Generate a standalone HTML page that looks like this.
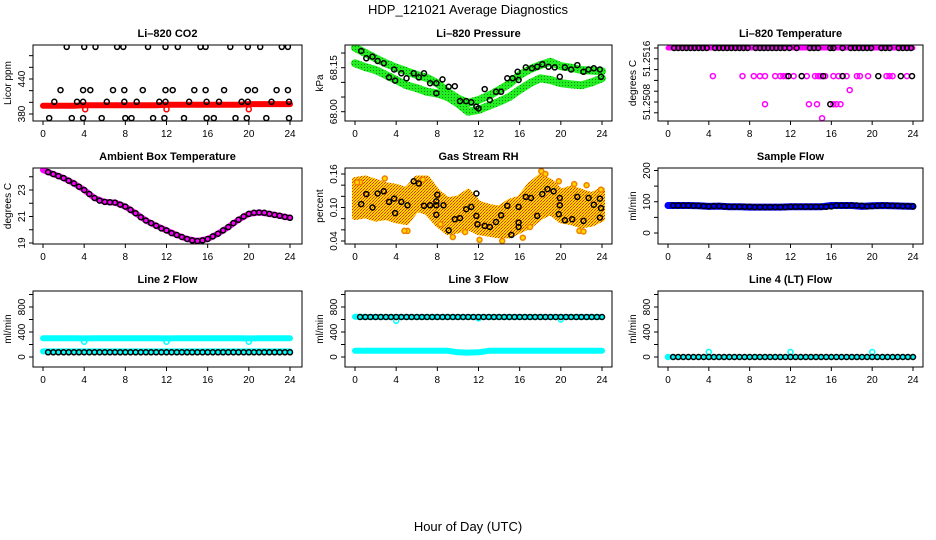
<!DOCTYPE html>
<html><head><meta charset="utf-8"><title>HDP_121021 Average Diagnostics</title>
<style>
html,body{margin:0;padding:0;background:#fff;}
svg{display:block;font-family:"Liberation Sans",Arial,sans-serif;}
</style></head>
<body>
<svg id="chart" width="936" height="540" viewBox="0 0 936 540" xmlns="http://www.w3.org/2000/svg">
<defs>
<pattern id="greenDots" width="3" height="3" patternUnits="userSpaceOnUse"><rect width="3" height="3" fill="#22ee22"/><rect x="1" y="1" width="1" height="1" fill="#0a8a0a"/></pattern>
<pattern id="rhDots" width="3" height="3" patternUnits="userSpaceOnUse"><rect width="3" height="3" fill="#ffd800"/><rect x="0" y="0" width="1" height="1" fill="#e03000"/><rect x="2" y="1" width="1" height="1" fill="#f06000"/><rect x="1" y="2" width="1" height="1" fill="#e03000"/></pattern>
</defs>
<text x="468" y="14" text-anchor="middle" font-size="13">HDP_121021  Average Diagnostics</text>
<text x="468" y="531" text-anchor="middle" font-size="13">Hour of Day (UTC)</text>
</svg>
<script>
// ---------- data ----------
const hourly = [0,1,2,3,4,5,6,7,8,9,10,11,12,13,14,15,16,17,18,19,20,21,22,23,24];
const halfHours = [0.5,1,1.5,2,2.5,3,3.5,4,4.5,5,5.5,6,6.5,7,7.5,8,8.5,9,9.5,10,10.5,11,11.5,12,12.5,13,13.5,14,14.5,15,15.5,16,16.5,17,17.5,18,18.5,19,19.5,20,20.5,21,21.5,22,22.5,23,23.5,24];
const xTicks = [0,4,8,12,16,20,24];

// CO2
const co2Red = [394,394,394,394,395,395,395,395,395,395,395,395,396,396,396,396,396,396,396,396,397,397,397,397,397];
const co2RedOutHours = [4.1,12.0,20.0];
const co2RedOutValues = [388,388,388];
const co2BlackHours = [2.3,4.0,5.1,7.2,7.8,10.2,11.9,13.1,15.3,15.8,18.2,19.9,21.1,23.2,23.8,
 1.7,3.9,4.6,6.8,7.9,9.7,11.9,12.6,14.7,15.8,17.6,19.9,20.6,22.7,23.8,
 1.1,3.3,3.9,6.2,7.9,9.1,11.3,11.9,14.2,15.9,17.1,19.3,19.9,22.2,23.9,
 0.6,2.8,3.9,5.7,8.0,8.6,10.7,11.8,13.7,15.9,16.6,18.7,19.8,21.7,23.9];
const co2BlackValues = [495,495,495,495,495,495,495,495,495,495,495,495,495,495,495,
 421,421,421,421,421,421,421,421,421,421,421,421,421,421,421,
 401,401,401,401,401,401,401,401,401,401,401,401,401,401,401,
 373,373,373,373,373,373,373,373,373,373,373,373,373,373,373];
const co2Ticks = [380,400,420,440,460,480];
const co2Labels = ["380","","","440","",""];

// Pressure
const pressUpper = [68.218,68.200,68.182,68.165,68.150,68.138,68.125,68.115,68.097,68.068,68.045,68.030,68.040,68.055,68.074,68.095,68.125,68.145,68.159,68.170,68.155,68.150,68.142,68.140,68.138];
const pressLower = [68.165,68.152,68.142,68.125,68.108,68.090,68.080,68.068,68.062,68.050,68.028,68.000,68.006,68.020,68.034,68.050,68.075,68.097,68.114,68.108,68.097,68.093,68.090,68.100,68.114];
const pressBlackHours = [0.6,1.1,1.7,2.2,2.8,3.3,3.8,3.9,4.5,5.0,5.7,6.2,6.7,7.3,7.9,7.9,8.5,9.1,9.7,10.2,10.8,11.3,11.8,12.0,12.6,13.1,13.7,14.2,14.8,15.3,15.8,15.9,16.6,17.2,17.7,18.2,18.8,19.4,19.9,20.4,21.0,21.6,22.2,22.7,23.2,23.8,23.9];
const pressBlackValues = [68.207,68.182,68.188,68.173,68.165,68.117,68.144,68.106,68.131,68.114,68.131,68.117,68.131,68.097,68.097,68.063,68.110,68.085,68.087,68.036,68.036,68.032,68.017,68.011,68.077,68.040,68.068,68.068,68.114,68.114,68.136,68.108,68.151,68.148,68.153,68.162,68.153,68.151,68.119,68.151,68.144,68.159,68.136,68.144,68.148,68.144,68.119];
const pressTicks = [68.00,68.05,68.10,68.15,68.20];
const pressLabels = ["68.00","","","68.15",""];

// Li-820 temperature
const tempTopLine = [51.2518,51.2518,51.2518,51.2518,51.2518,51.2518,51.2518,51.2518,51.2518,51.2518,51.2518,51.2518,51.2518,51.2518,51.2518,51.2518,51.2518,51.2518,51.2518,51.2518,51.2518,51.2518,51.2518,51.2518,51.2518];
const tempMagHours = [4.4,7.3,8.4,9.0,9.5,10.5,11.0,11.3,11.6,12.3,13.1,13.6,14.4,14.7,14.9,15.0,15.4,16.2,16.7,17.5,18.5,18.8,19.6,21.4,21.7,22.0,23.4,17.8,9.5,13.8,14.6,16.2,16.5,16.9,15.1];
const tempMagValues = [51.25128,51.25128,51.25128,51.25128,51.25128,51.25128,51.25128,51.25128,51.25128,51.25128,51.25128,51.25128,51.25128,51.25128,51.25128,51.25128,51.25128,51.25128,51.25128,51.25128,51.25128,51.25128,51.25128,51.25128,51.25128,51.25128,51.25128,51.25102,51.25076,51.25076,51.25076,51.25076,51.25076,51.25076,51.2505];
const tempBlackHours = [0.6,1.0,1.4,1.8,2.2,2.6,3.0,3.4,3.8,4.6,5.0,5.4,5.8,6.2,6.6,7.0,7.4,7.8,8.6,9.0,9.4,9.8,10.2,10.6,11.0,11.4,11.9,12.6,13.9,14.3,14.7,15.9,16.2,17.1,17.9,18.3,18.7,19.1,19.5,19.9,20.9,21.3,21.7,22.6,23.0,23.4,23.8,11.8,13.1,15.2,17.1,20.6,22.8,23.9,15.9];
const tempBlackValues = [51.2518,51.2518,51.2518,51.2518,51.2518,51.2518,51.2518,51.2518,51.2518,51.2518,51.2518,51.2518,51.2518,51.2518,51.2518,51.2518,51.2518,51.2518,51.2518,51.2518,51.2518,51.2518,51.2518,51.2518,51.2518,51.2518,51.2518,51.2518,51.2518,51.2518,51.2518,51.2518,51.2518,51.2518,51.2518,51.2518,51.2518,51.2518,51.2518,51.2518,51.2518,51.2518,51.2518,51.2518,51.2518,51.2518,51.2518,51.25128,51.25128,51.25128,51.25128,51.25128,51.25128,51.25128,51.25076];
const tempTicks = [51.2506,51.2508,51.2510,51.2512,51.2514,51.2516,51.2518];
const tempLabels = ["","51.2508","","","","51.2516",""];

// Ambient box temperature
const ambMag = [24.5,24.2,23.9,23.5,23.0,22.4,22.1,22.05,21.75,21.25,20.7,20.3,19.95,19.6,19.3,19.15,19.3,19.7,20.2,20.75,21.2,21.3,21.2,21.05,20.9];
const ambBlack = [24.35,24.2,24.05,23.9,23.7,23.5,23.25,23.0,22.7,22.4,22.2,22.1,22.07,22.05,21.9,21.75,21.5,21.25,20.95,20.7,20.5,20.3,20.1,19.95,19.75,19.6,19.45,19.3,19.2,19.15,19.2,19.3,19.5,19.7,19.95,20.2,20.5,20.75,21.0,21.2,21.28,21.3,21.28,21.2,21.12,21.05,20.97,20.9];
const ambTicks = [19,20,21,22,23,24];
const ambLabels = ["19","","21","","23",""];

// Gas stream RH
const rhUpper = [0.149,0.152,0.146,0.140,0.137,0.131,0.152,0.152,0.128,0.113,0.116,0.128,0.107,0.101,0.098,0.110,0.116,0.140,0.155,0.146,0.128,0.134,0.128,0.122,0.131];
const rhLower = [0.083,0.086,0.080,0.083,0.077,0.074,0.098,0.092,0.071,0.056,0.059,0.065,0.056,0.053,0.050,0.050,0.059,0.068,0.083,0.092,0.077,0.074,0.068,0.071,0.080];
const rhOutHours = [0.5,2.9,5.1,4.8,9.5,10.7,12.1,14.3,17.0,18.1,18.5,19.8,21.8,22.2,21.3,22.5,23.9,6.6,0.2,16.3,8.3];
const rhOutValues = [0.145,0.152,0.058,0.058,0.047,0.056,0.042,0.040,0.065,0.165,0.160,0.147,0.058,0.057,0.142,0.140,0.132,0.150,0.145,0.046,0.070];
const rhBlackHours = [0.6,1.1,1.7,2.2,2.8,3.3,3.8,3.9,4.5,5.1,5.7,6.2,6.7,7.3,7.9,8.0,7.9,7.9,8.6,9.1,9.7,10.2,10.8,11.3,11.8,11.8,11.9,12.6,13.1,13.7,14.2,14.8,15.2,15.9,15.9,15.9,16.6,17.1,17.7,18.2,18.7,19.3,19.9,19.9,19.8,20.4,21.1,21.6,22.2,22.7,23.2,23.8,23.9,23.8];
const rhBlackValues = [0.106,0.124,0.100,0.125,0.129,0.110,0.116,0.090,0.110,0.104,0.147,0.143,0.103,0.104,0.104,0.123,0.087,0.111,0.104,0.059,0.079,0.081,0.097,0.101,0.125,0.085,0.070,0.067,0.065,0.074,0.086,0.103,0.051,0.101,0.073,0.065,0.119,0.117,0.085,0.124,0.133,0.129,0.117,0.104,0.088,0.077,0.079,0.119,0.076,0.117,0.105,0.116,0.099,0.082];
const rhTicks = [0.04,0.06,0.08,0.10,0.12,0.14,0.16];
const rhLabels = ["0.04","","","0.10","","","0.16"];

// Sample flow
const sampleBlue = [88,88,88,87,85,86,84,84,83,83,83,83,84,84,84,84,88,88,88,85,87,88,87,86,85];
const sampleBlack = [88,88,88,88,87,87,86,85,86,86,85,84,84,84,84,84,83,83,83,83,83,83,83,84,84,84,84,84,84,84,84,85,88,88,88,88,88,87,85,86,87,88,88,87,87,86,86,85];
const sampleTicks = [0,50,100,150,200];
const sampleLabels = ["0","","100","","200"];

// Line flows
const flowTicks = [0,200,400,600,800,1000];
const flowLabels = ["0","","400","","800",""];
const line2CyanUpper = [300,300,300,300,298,300,300,300,300,300,300,300,298,300,300,300,300,300,300,300,298,300,300,300,300];
const line2CyanLower = [90,90,90,90,90,90,90,90,90,90,90,90,90,90,90,90,90,90,90,90,90,90,90,90,90];
const line2DipHours = [4,12,20];
const line2DipValues = [245,245,245];
const line2Black = [75,75,75,75,75,75,75,75,75,75,75,75,75,75,75,75,75,75,75,75,75,75,75,75,75,75,75,75,75,75,75,75,75,75,75,75,75,75,75,75,75,75,75,75,75,75,75,75];
const line3CyanUpper = [645,640,640,640,640,640,640,640,640,640,640,640,640,640,640,640,640,640,640,640,640,640,640,640,640];
const line3CyanLower = [100,100,100,100,100,100,100,100,100,100,75,70,75,100,100,100,100,100,100,100,100,100,100,100,100];
const line3DipHours = [4,12,20];
const line3DipValues = [580,620,600];
const line3Black = [640,640,640,640,640,640,640,640,640,640,640,640,640,640,640,640,640,640,640,640,640,640,640,640,640,640,640,640,640,640,640,640,640,640,640,640,640,640,640,640,640,640,640,640,640,640,640,640];
const line4Cyan = [0,0,0,0,0,0,0,0,0,0,0,0,0,0,0,0,0,0,0,0,0,0,0,0,0];
const line4SpikeHours = [0,4,12,20];
const line4SpikeValues = [0,80,80,80];
const line4Black = [0,0,0,0,0,0,0,0,0,0,0,0,0,0,0,0,0,0,0,0,0,0,0,0,0,0,0,0,0,0,0,0,0,0,0,0,0,0,0,0,0,0,0,0,0,0,0,0];

// ---------- layout ----------
const NS = "http://www.w3.org/2000/svg";
const svg = document.getElementById("chart");
const cols = [{bx0:33,bx1:302,x0:43,x24:290},{bx0:345,bx1:612,x0:355,x24:602},{bx0:658,bx1:923,x0:668,x24:913}];
const rows = [{by0:45,by1:121},{by0:168,by1:244},{by0:291,by1:367}];

function mk(tag, attrs, parent){
  const e = document.createElementNS(NS, tag);
  for (const k in attrs) e.setAttribute(k, attrs[k]);
  parent.appendChild(e);
  return e;
}

function makePanel(ci, ri, slug, title, ylab, v1, p1, v2, p2, ticks, labels){
  const c = cols[ci], r = rows[ri];
  const g = mk("g", {}, svg);
  
  
  const xs = h => c.x0 + (c.x24 - c.x0) * h / 24;
  const ys = v => p1 + (v - v1) * (p2 - p1) / (v2 - v1);
  const t = mk("text", {x:(c.bx0+c.bx1)/2, y:r.by0-8, "text-anchor":"middle", "font-size":"11", "font-weight":"bold"}, g);
  t.textContent = title;
  
  
  const yl = mk("text", {x:c.bx0-22, y:(r.by0+r.by1)/2, "text-anchor":"middle", "font-size":"10", transform:`rotate(-90 ${c.bx0-22} ${(r.by0+r.by1)/2})`}, g);
  yl.textContent = ylab;
  
  
  const yax = mk("g", {}, g);
  
  
  ticks.forEach((v, i) => {
    const y = ys(v);
    mk("line", {x1:c.bx0-4, x2:c.bx0, y1:y, y2:y, stroke:"#000", "stroke-width":"1"}, yax);
    if (labels[i]) {
      const tl = mk("text", {x:c.bx0-8, y:y, "text-anchor":"middle", "font-size":"10", transform:`rotate(-90 ${c.bx0-8} ${y})`}, yax);
      tl.textContent = labels[i];
      
      
    }
  });
  const xax = mk("g", {}, g);
  
  
  xTicks.forEach(h => {
    const x = xs(h);
    mk("line", {x1:x, x2:x, y1:r.by1, y2:r.by1+4, stroke:"#000", "stroke-width":"1"}, xax);
    const tl = mk("text", {x:x, y:r.by1+16, "text-anchor":"middle", "font-size":"10"}, xax);
    tl.textContent = String(h);
    
    
  });
  const clip = "clip-" + slug;
  const cp = mk("clipPath", {id:clip}, svg);
  mk("rect", {x:c.bx0, y:r.by0, width:c.bx1-c.bx0, height:r.by1-r.by0}, cp);
  const plot = mk("g", {"clip-path":`url(#${clip})`}, g);
  
  
  const box = mk("rect", {x:c.bx0, y:r.by0, width:c.bx1-c.bx0, height:r.by1-r.by0, fill:"none", stroke:"#000", "stroke-width":"1"}, g);
  
  
  return {plot, xs, ys};
}

function band(P, hours, vals, color, width, name){
  const d = hours.map((h, i) => (i ? "L" : "M") + P.xs(h).toFixed(1) + " " + P.ys(vals[i]).toFixed(1)).join(" ");
  const p = mk("path", {d:d, fill:"none", stroke:color, "stroke-width":width, "stroke-linecap":"round", "stroke-linejoin":"round"}, P.plot);
  
  
}
function area(P, hours, up, lo, fill, name){
  let d = hours.map((h, i) => (i ? "L" : "M") + P.xs(h).toFixed(1) + " " + P.ys(up[i]).toFixed(1)).join(" ");
  for (let i = hours.length - 1; i >= 0; i--) d += " L" + P.xs(hours[i]).toFixed(1) + " " + P.ys(lo[i]).toFixed(1);
  d += " Z";
  const p = mk("path", {d:d, fill:fill, stroke:fill, "stroke-width":"6", "stroke-linejoin":"round"}, P.plot);
  
  
}
function points(P, hours, vals, color, name, filled){
  const g = mk("g", {}, P.plot);
  
  
  hours.forEach((h, i) => {
    const cc = mk("circle", {cx:P.xs(h).toFixed(1), cy:P.ys(vals[i]).toFixed(1), r:"2.5", fill:filled || "none", stroke:color, "stroke-width":"1.5"}, g);
    
    
  });
}

// Row 1
let P = makePanel(0,0,"li820-co2","Li\u2013820 CO2","Licor ppm",380,114,440,79,co2Ticks,co2Labels);
band(P, hourly, co2Red, "#ff0000", 6, "co2-red-band");
points(P, co2RedOutHours, co2RedOutValues, "#ff0000", "co2-red-outliers");
points(P, co2BlackHours, co2BlackValues, "#000", "co2-black-series");

P = makePanel(1,0,"li820-pressure","Li\u2013820 Pressure","kPa",68.00,111.7,68.15,67.7,pressTicks,pressLabels);
band(P, hourly, pressUpper, "url(#greenDots)", 8, "pressure-green-upper");
band(P, hourly, pressLower, "url(#greenDots)", 8, "pressure-green-lower");
points(P, pressBlackHours, pressBlackValues, "#000", "pressure-black-series");

P = makePanel(2,0,"li820-temperature","Li\u2013820 Temperature","degrees C",51.2518,48,51.2506,112.8,tempTicks,tempLabels);
band(P, hourly, tempTopLine, "#ff00ff", 5, "temp-magenta-top");
points(P, tempMagHours, tempMagValues, "#ff00ff", "temp-magenta-series");
points(P, tempBlackHours, tempBlackValues, "#000", "temp-black-series");

// Row 2
P = makePanel(0,1,"ambient-box-temp","Ambient Box Temperature","degrees C",19,243,23,190,ambTicks,ambLabels);
band(P, hourly, ambMag, "#ff00ff", 6, "ambient-magenta-line");
points(P, halfHours, ambBlack, "#000", "ambient-black-series");

P = makePanel(1,1,"gas-stream-rh","Gas Stream RH","percent",0.04,241,0.16,174,rhTicks,rhLabels);
area(P, hourly, rhUpper, rhLower, "url(#rhDots)", "rh-orange-cloud");
points(P, rhOutHours, rhOutValues, "#f08000", "rh-orange-outliers", "#ffd800");
points(P, rhBlackHours, rhBlackValues, "#000", "rh-black-series");

P = makePanel(2,1,"sample-flow","Sample Flow","ml/min",0,233,200,170.5,sampleTicks,sampleLabels);
band(P, hourly, sampleBlue, "#0000ff", 7, "sample-blue-band");
points(P, halfHours, sampleBlack, "#000", "sample-black-series");

// Row 3
P = makePanel(0,2,"line2-flow","Line 2 Flow","ml/min",0,357,800,307,flowTicks,flowLabels);
band(P, hourly, line2CyanUpper, "#00ffff", 6, "line2-cyan-upper");
points(P, line2DipHours, line2DipValues, "#00ffff", "line2-cyan-dips");
band(P, hourly, line2CyanLower, "#00ffff", 6, "line2-cyan-lower");
points(P, halfHours, line2Black, "#000", "line2-black-series");

P = makePanel(1,2,"line3-flow","Line 3 Flow","ml/min",0,357,800,307,flowTicks,flowLabels);
band(P, hourly, line3CyanUpper, "#00ffff", 6, "line3-cyan-upper");
points(P, line3DipHours, line3DipValues, "#00ffff", "line3-cyan-dips");
band(P, hourly, line3CyanLower, "#00ffff", 6, "line3-cyan-lower");
points(P, halfHours, line3Black, "#000", "line3-black-series");

P = makePanel(2,2,"line4-flow","Line 4 (LT) Flow","ml/min",0,357,800,307,flowTicks,flowLabels);
band(P, hourly, line4Cyan, "#00ffff", 5, "line4-cyan-band");
points(P, line4SpikeHours, line4SpikeValues, "#00ffff", "line4-cyan-spikes");
points(P, halfHours, line4Black, "#000", "line4-black-series");
</script>
</body></html>
